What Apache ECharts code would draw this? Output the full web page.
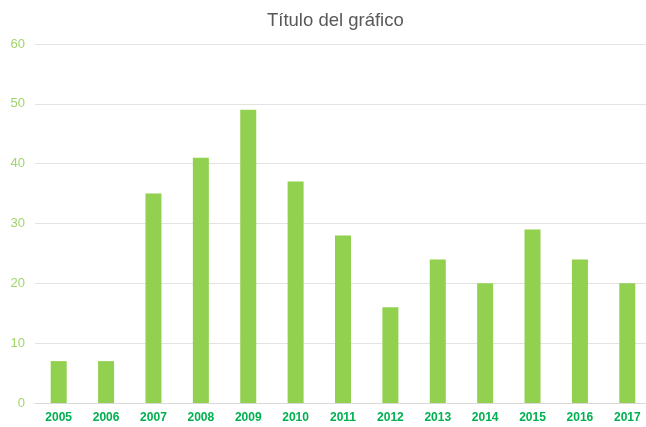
<!DOCTYPE html>
<html>
<head>
<meta charset="utf-8">
<script src="https://cdn.jsdelivr.net/npm/echarts@6/dist/echarts.min.js"></script>
<style>
  html, body { margin: 0; padding: 0; background: #fff; overflow: hidden; }
  #chart { width: 652px; height: 427px; }
</style>
</head>
<body>
<div id="chart"></div>
<script>
// datos
var years = ["2005", "2006", "2007", "2008", "2009", "2010", "2011", "2012", "2013", "2014", "2015", "2016", "2017"];
var values = [7, 7, 35, 41, 49, 37, 28, 16, 24, 20, 29, 24, 20];

var chart = echarts.init(document.getElementById("chart"));
chart.setOption({
  animation: false,
  title: {
    text: "Título del gráfico",
    left: 262,
    top: 6,
    textStyle: {
      color: "#595959",
      fontSize: 18.5,
      fontWeight: "normal",
      fontFamily: "Liberation Sans, Arial, sans-serif"
    }
  },
  grid: {
    left: 35,
    top: 44,
    right: 1,
    height: 359,
    containLabel: false
  },
  xAxis: {
    type: "category",
    data: years,
    axisLine: { lineStyle: { color: "#d9d9d9" } },
    axisTick: { show: false },
    axisLabel: {
      color: "#00b050",
      fontWeight: "bold",
      fontSize: 12,
      margin: 9,
      fontFamily: "Liberation Sans, Arial, sans-serif"
    }
  },
  yAxis: {
    type: "value",
    min: 0,
    max: 60,
    interval: 10,
    axisLine: { show: false },
    axisTick: { show: false },
    splitLine: { lineStyle: { color: "#e3e3e3" } },
    axisLabel: {
      color: "#9fd66a",
      fontSize: 13,
      margin: 10,
      fontFamily: "Liberation Sans, Arial, sans-serif"
    }
  },
  series: [
    {
      type: "bar",
      data: values,
      barWidth: 16,
      itemStyle: { color: "#92d050" }
    }
  ]
});
</script>
</body>
</html>
